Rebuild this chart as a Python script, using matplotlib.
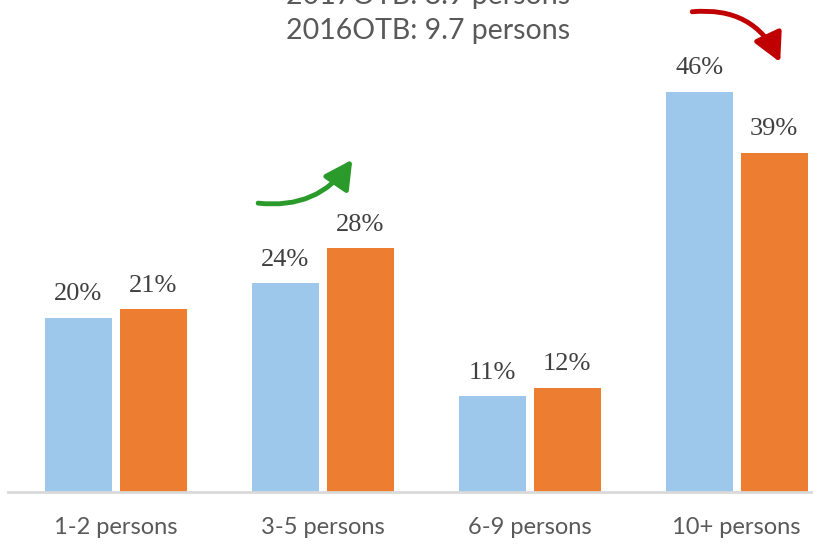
import matplotlib.pyplot as plt
import numpy as np

# donnees
categories = ['1-2 persons', '3-5 persons', '6-9 persons', '10+ persons']
val_2016 = [20, 24, 11, 46]
val_2017 = [21, 28, 12, 39]
titre_haut = '2017OTB: 8.9 persons'
titre_bas = '2016OTB: 9.7 persons'

bleu = '#9DC8EC'
orange = '#ED7D31'
gris = '#595959'

fig = plt.figure(figsize=(8.13, 5.44), dpi=100)
ax = fig.add_axes([0.0, 0.0956, 1.0, 0.9044])

x = np.arange(len(categories))
larg = 0.324
dec = 0.181
b1 = ax.bar(x - dec, val_2016, larg, color=bleu)
b2 = ax.bar(x + dec, val_2017, larg, color=orange)

for barres, vals in [(b1, val_2016), (b2, val_2017)]:
    for b, v in zip(barres, vals):
        ax.annotate(str(v) + '%', (b.get_x() + b.get_width() / 2, v),
                    xytext=(0, 9), textcoords='offset points',
                    ha='center', va='bottom', fontsize=19,
                    family='Liberation Serif', color='#404040')

gauche = -0.559
ax.set_xlim(gauche, gauche + 813 / 207)
ax.set_ylim(0, 56.55)
ax.set_yticks([])
ax.set_xticks([])
for s in ['top', 'right', 'left']:
    ax.spines[s].set_visible(False)
ax.spines['bottom'].set_color('#D9D9D9')
ax.spines['bottom'].set_linewidth(2)
ax.spines['bottom'].set_bounds(gauche + 8 / 207, gauche + 813 / 207)

for xi, c in zip(x, categories):
    ax.text(xi, -4.1, c, ha='center', va='center', fontsize=17,
            color=gris, family='Lato')

fig.text(428 / 813, 1 - (-4) / 544, titre_haut, ha='center', va='center',
         fontsize=20.5, color=gris, family='Lato')
fig.text(428 / 813, 1 - 31 / 544, titre_bas, ha='center', va='center',
         fontsize=20.5, color=gris, family='Lato')

# fleches
ax.annotate('', xy=(1.143, 38.2), xytext=(0.688, 33.2),
            arrowprops=dict(arrowstyle='-|>,head_length=1.7,head_width=0.9',
                            connectionstyle='arc3,rad=0.3',
                            color='#2A9A2A', lw=3.5, shrinkA=0, shrinkB=0))
ax.annotate('', xy=(3.21, 49.4), xytext=(2.785, 55.2),
            arrowprops=dict(arrowstyle='-|>,head_length=1.7,head_width=0.9',
                            connectionstyle='arc3,rad=-0.35',
                            color='#C00000', lw=3.5, shrinkA=0, shrinkB=0),
            annotation_clip=False)

plt.savefig('out.png', dpi=100)
